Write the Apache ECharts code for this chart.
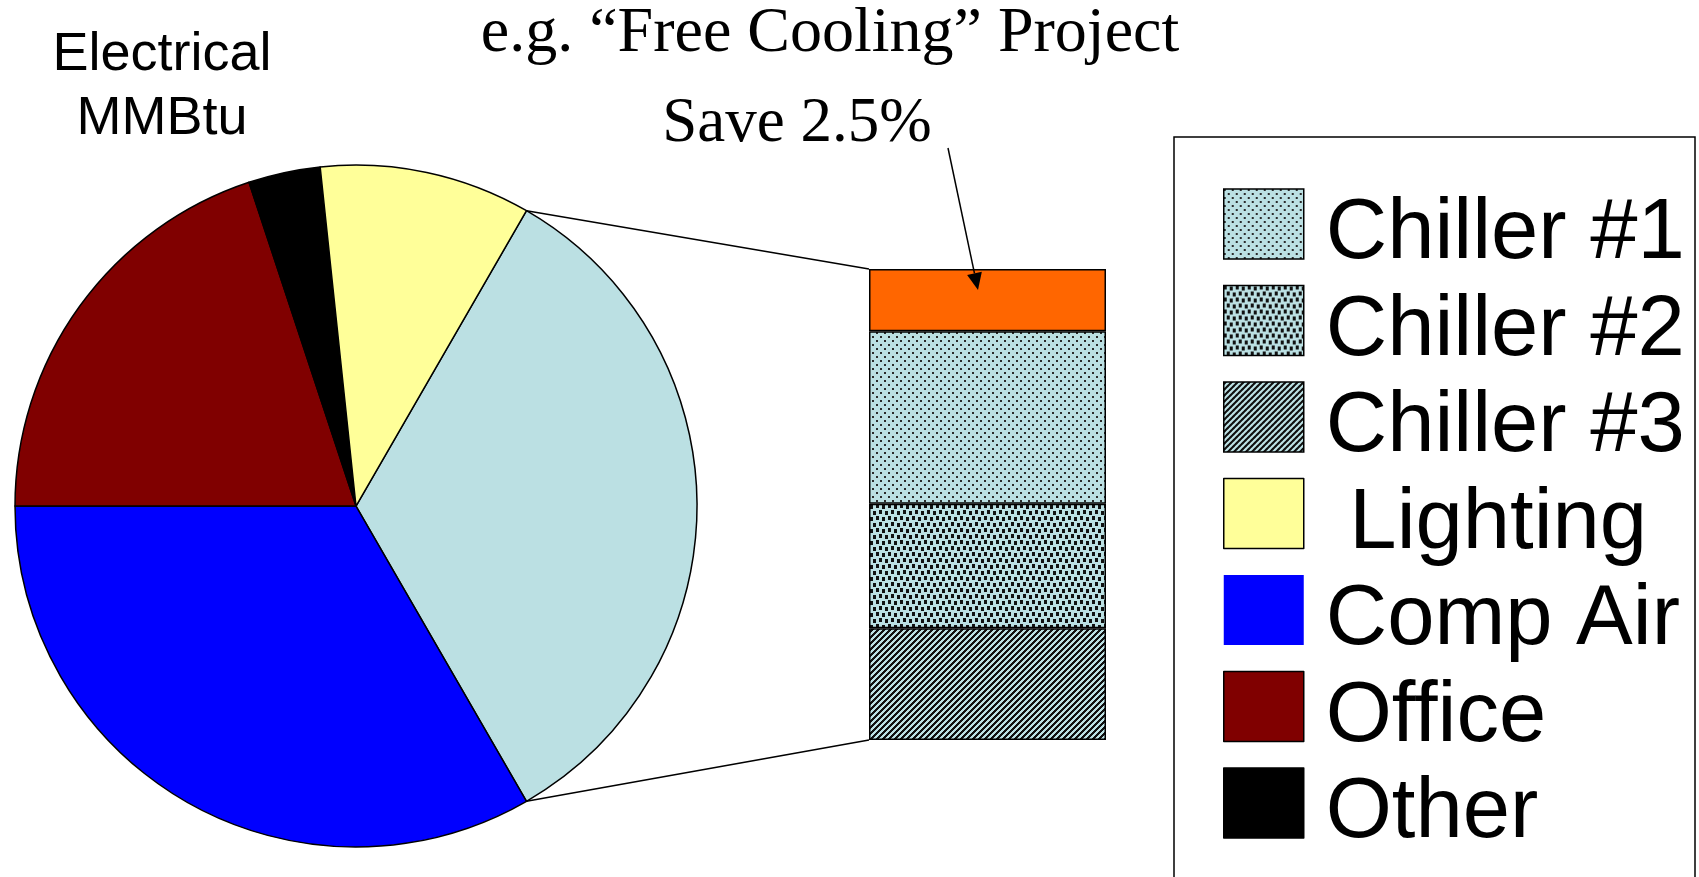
<!DOCTYPE html>
<html>
<head>
<meta charset="utf-8">
<script src="https://cdn.jsdelivr.net/npm/echarts@6/dist/echarts.min.js"></script>
<style>
html,body{margin:0;padding:0;background:#fff;}
#chart{width:1699px;height:877px;}
</style>
</head>
<body>
<div id="chart"></div>
<script>
// ---- data ----
const pieNames  = ['Chillers', 'Comp Air', 'Office', 'Other', 'Lighting'];
const pieValues = [33.3, 33.3, 19.9, 3.4, 10.0];
const barNames  = ['Chiller #3', 'Chiller #2', 'Chiller #1', 'Free Cooling'];
const barValues = [7.9, 8.8, 12.2, 4.4];
const legendNames = ['Chiller #1', 'Chiller #2', 'Chiller #3', 'Lighting', 'Comp Air', 'Office', 'Other'];
const pieTitle  = 'Electrical\nMMBtu';
const mainTitle = 'e.g. \u201cFree Cooling\u201d Project';
const noteText  = 'Save 2.5%';

// ---- patterns ----
function makePattern(size, bg, fg, cells) {
  const c = document.createElement('canvas');
  c.width = size; c.height = size;
  const g = c.getContext('2d');
  g.fillStyle = bg; g.fillRect(0, 0, size, size);
  g.fillStyle = fg;
  cells.forEach(function (p) { g.fillRect(p[0], p[1], p[2], p[3]); });
  return { image: c, repeat: 'repeat' };
}
const BLUE_LIGHT = '#BBE0E3';
const pat1 = makePattern(8, BLUE_LIGHT, '#2a2a2a', [[0, 0, 2, 2], [4, 4, 2, 2]]);
const pat2 = makePattern(12, BLUE_LIGHT, '#111', [[0, 0, 3, 4], [6, 1, 3, 4], [3, 6, 3, 4], [9, 7, 3, 4]]);
const diag = [];
for (let y = 0; y < 6; y++) for (let x = 0; x < 6; x++) if ((x + y) % 6 < 3) diag.push([x, y, 1, 1]);
const pat3 = makePattern(6, BLUE_LIGHT, '#111', diag);

const pieColors = [BLUE_LIGHT, '#0000FF', '#800000', '#000000', '#FFFF99'];
const barColors = [pat3, pat2, pat1, '#FF6600'];

const pieCenter = [356, 506];
const pieRadius = 341;
const pieStart = 60;
const grid = { left: 869, top: 269, width: 237, height: 471 };
const total = barValues.reduce(function (a, b) { return a + b; }, 0);

const chart = echarts.init(document.getElementById('chart'), null, { renderer: 'canvas' });

const option = {
  animation: false,
  backgroundColor: '#fff',
  title: [
    { text: pieTitle, left: 162, top: 23, textAlign: 'center', padding: 0,
      textStyle: { fontFamily: 'Liberation Sans', fontSize: 54, lineHeight: 64, fontWeight: 'normal', color: '#000' } },
    { text: mainTitle, left: 830, top: 2, textAlign: 'center', padding: 0,
      textStyle: { fontFamily: 'Liberation Serif', fontSize: 64, lineHeight: 64, fontWeight: 'normal', color: '#000' } },
    { text: noteText, left: 797, top: 93, textAlign: 'center', padding: 0,
      textStyle: { fontFamily: 'Liberation Serif', fontSize: 63, lineHeight: 63, fontWeight: 'normal', color: '#000' } }
  ],
  legend: {
    orient: 'vertical', left: 1223, top: 170.5, padding: 0,
    itemWidth: 80, itemHeight: 70, itemGap: -10.5, icon: 'rect', selectedMode: false,
    data: legendNames.map(function (n) {
      return n === 'Comp Air' ? { name: n, itemStyle: { borderWidth: 0 } } : { name: n };
    }),
    formatter: function (n) { return '\n' + (n === 'Lighting' ? ' ' + n : n); },
    itemStyle: { borderColor: '#000', borderWidth: 1.5 },
    textStyle: { fontFamily: 'Liberation Sans', fontSize: 85, lineHeight: 22, color: '#000', padding: [0, 0, 0, 17] }
  },
  grid: grid,
  xAxis: { type: 'category', data: [''], show: false },
  yAxis: { type: 'value', min: 0, max: total, show: false },
  series: [
    {
      type: 'pie', name: 'Electrical', center: pieCenter, radius: pieRadius,
      startAngle: pieStart, clockwise: true, silent: true,
      label: { show: false }, labelLine: { show: false },
      emphasis: { disabled: true },
      itemStyle: { borderColor: '#000', borderWidth: 1.5 },
      data: pieNames.map(function (n, i) { return { name: n, value: pieValues[i], itemStyle: { color: pieColors[i] } }; })
    }
  ].concat(barNames.map(function (n, i) {
    return {
      type: 'bar', name: n, stack: 'chillers', barWidth: '100%', silent: true,
      emphasis: { disabled: true },
      itemStyle: { color: barColors[i], borderColor: '#000', borderWidth: 1.5 },
      data: [barValues[i]]
    };
  }))
};
chart.setOption(option);

// ---- connectors, arrow, legend frame ----
const sumPie = pieValues.reduce(function (a, b) { return a + b; }, 0);
const a0 = pieStart * Math.PI / 180;
const a1 = (pieStart - 360 * pieValues[0] / sumPie) * Math.PI / 180;
const pTop = [pieCenter[0] + pieRadius * Math.cos(a0), pieCenter[1] - pieRadius * Math.sin(a0)];
const pBot = [pieCenter[0] + pieRadius * Math.cos(a1), pieCenter[1] - pieRadius * Math.sin(a1)];
const barTop = chart.convertToPixel({ gridIndex: 0 }, [0, total]);
const barBot = chart.convertToPixel({ gridIndex: 0 }, [0, 0]);
const barLeft = barTop[0] - grid.width / 2;

const arrowFrom = [948, 148];
const arrowTo = [978, 290];
const dx = arrowTo[0] - arrowFrom[0], dy = arrowTo[1] - arrowFrom[1];
const len = Math.sqrt(dx * dx + dy * dy);
const ux = dx / len, uy = dy / len;
const headL = 17, headW = 7.5;
const bx = arrowTo[0] - ux * headL, by = arrowTo[1] - uy * headL;

chart.setOption({
  graphic: [
    { type: 'line', z: 100, silent: true, shape: { x1: pTop[0], y1: pTop[1], x2: barLeft, y2: barTop[1] }, style: { stroke: '#000', lineWidth: 1.5 } },
    { type: 'line', z: 100, silent: true, shape: { x1: pBot[0], y1: pBot[1], x2: barLeft, y2: barBot[1] }, style: { stroke: '#000', lineWidth: 1.5 } },
    { type: 'line', z: 100, silent: true, shape: { x1: arrowFrom[0], y1: arrowFrom[1], x2: bx, y2: by }, style: { stroke: '#000', lineWidth: 1.5 } },
    { type: 'polygon', z: 100, silent: true, shape: { points: [arrowTo, [bx - uy * headW, by + ux * headW], [bx + uy * headW, by - ux * headW]] }, style: { fill: '#000' } },
    { type: 'rect', z: 100, silent: true, shape: { x: 1174, y: 137, width: 521, height: 800 }, style: { fill: 'none', stroke: '#000', lineWidth: 1.5 } }
  ]
});
</script>
</body>
</html>
